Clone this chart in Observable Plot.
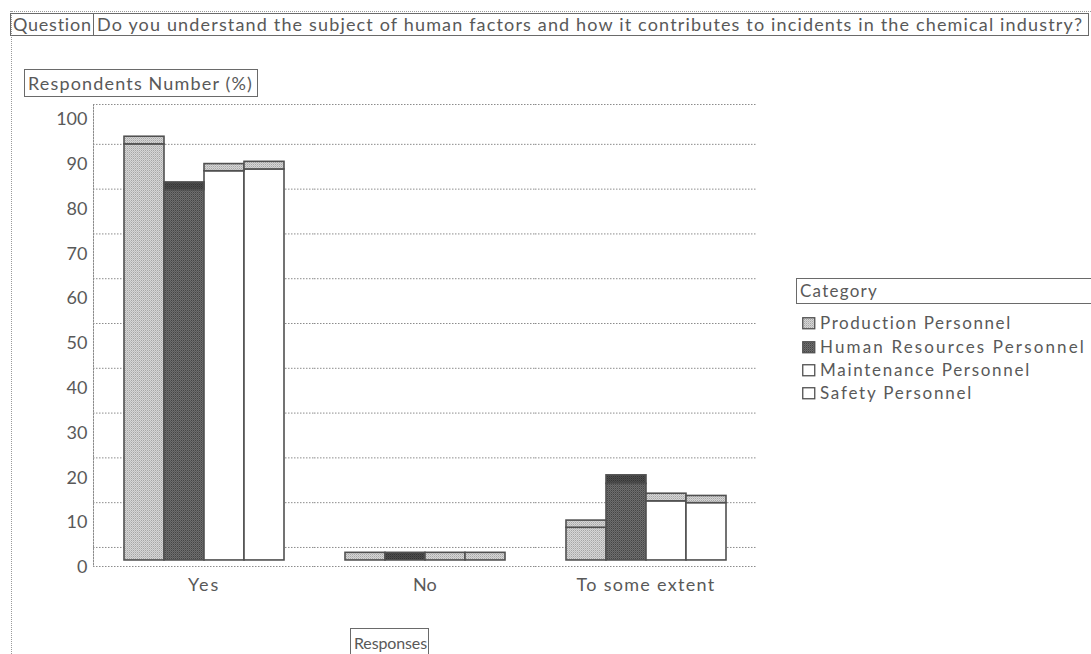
<!DOCTYPE html>
<html>
<head>
<meta charset="utf-8">
<script src="https://cdn.jsdelivr.net/npm/d3@7"></script>
<script src="https://cdn.jsdelivr.net/npm/@observablehq/plot@0.6"></script>
<style>
  body { margin: 0; background: #fff; }
  #chart { position: relative; width: 1091px; height: 654px; overflow: hidden;
           font-family: Lato, "Open Sans", sans-serif; color: #595959; background: #fff; }
  #chart svg.plot-main { position: absolute; left: 0; top: 0; }
  .box { position: absolute; border: 1px solid #6a6a6a; box-sizing: border-box; white-space: nowrap; }
  .box span, .legend-row span { display: inline-block; }
  .dots-h { position: absolute; height: 0; border-top: 1px dotted #9a9a9a; }
  .dots-v { position: absolute; width: 0; border-left: 1px dotted #9a9a9a; }
  .legend-row { position: absolute; left: 802px; height: 22px; line-height: 22px; font-size: 17px; white-space: nowrap; }
  .legend-row svg { position: absolute; left: 0; top: 5px; }
  .legend-row span { position: absolute; left: 18px; top: 0; }
</style>
</head>
<body>
<div id="chart"></div>
<script>
// Survey responses and personnel groups
const responses = ["Yes", "No", "To some extent"];
const categories = ["Production Personnel", "Human Resources Personnel", "Maintenance Personnel", "Safety Personnel"];

// Lower segment of each bar (%), in category order
const yesLower = [92.9, 82.7, 86.9, 87.3];
const noLower = [0, 0, 0, 0];
const someLower = [7.3, 17.1, 13.2, 12.8];

// Upper segment of each bar (%), in category order
const yesUpper = [1.7, 1.7, 1.6, 1.7];
const noUpper = [1.7, 1.7, 1.7, 1.7];
const someUpper = [1.6, 1.9, 1.7, 1.6];

const yTicks = [0, 10, 20, 30, 40, 50, 60, 70, 80, 90, 100];

const lowerByResponse = [yesLower, noLower, someLower];
const upperByResponse = [yesUpper, noUpper, someUpper];
const rows = responses.flatMap((response, i) =>
  categories.map((category, j) => ({
    response,
    category,
    lower: lowerByResponse[i][j],
    upper: upperByResponse[i][j]
  }))
);

// Fill styles per group: lower segment / upper segment
const fills = {
  "Production Personnel": {lower: "url(#stipple-light)", upper: "url(#stipple-light)"},
  "Human Resources Personnel": {lower: "url(#stipple-dark)", upper: "url(#stipple-darker)"},
  "Maintenance Personnel": {lower: "white", upper: "url(#stipple-light)"},
  "Safety Personnel": {lower: "white", upper: "url(#stipple-light)"}
};

const yDomain = [-1.35, 101.8];
const dotted = {stroke: "#8c8c8c", strokeOpacity: 1, strokeWidth: 1, strokeDasharray: "1.5,1.5"};
const barStyle = {stroke: "#505050", strokeWidth: 1.6};

const plot = Plot.plot({
  width: 770,
  height: 600,
  marginLeft: 92,
  marginRight: 13,
  marginTop: 104,
  marginBottom: 34,
  style: {background: "none", fontFamily: "Lato, 'Open Sans', sans-serif", fontSize: "18px", color: "#595959", overflow: "visible"},
  fx: {domain: responses, padding: 0, label: null},
  x: {domain: categories, paddingInner: 0, paddingOuter: 0.755, axis: null},
  y: {domain: yDomain, axis: null},
  color: {type: "identity"},
  marks: [
    Plot.gridY(yTicks.slice(0, -1), {...dotted, dy: -13}),
    Plot.ruleY(yDomain, dotted),
    Plot.frame({anchor: "left", facetAnchor: "left", ...dotted}),
    Plot.axisY(yTicks, {tickSize: 0, tickPadding: 6, dy: 7, label: null}),
    Plot.axisFx({anchor: "bottom", tickSize: 0, tickPadding: 12, label: null}),
    Plot.barY(rows.filter(d => d.lower > 0), {
      fx: "response", x: "category", y1: 0, y2: "lower",
      fill: d => fills[d.category].lower, ...barStyle
    }),
    Plot.barY(rows, {
      fx: "response", x: "category", y1: "lower", y2: d => d.lower + d.upper,
      fill: d => fills[d.category].upper, ...barStyle
    })
  ]
});
plot.classList.add("plot-main");

// Stipple textures for the grey fills
plot.insertAdjacentHTML("afterbegin", `
<defs>
  <pattern id="stipple-light" width="2" height="2" patternUnits="userSpaceOnUse">
    <rect width="2" height="2" fill="#d6d6d6"/>
    <rect width="1" height="1" fill="#a6a6a6"/>
    <rect x="1" y="1" width="1" height="1" fill="#bdbdbd"/>
  </pattern>
  <pattern id="stipple-dark" width="2" height="2" patternUnits="userSpaceOnUse">
    <rect width="2" height="2" fill="#6e6e6e"/>
    <rect width="1" height="1" fill="#454545"/>
    <rect x="1" y="1" width="1" height="1" fill="#5a5a5a"/>
  </pattern>
  <pattern id="stipple-darker" width="2" height="2" patternUnits="userSpaceOnUse">
    <rect width="2" height="2" fill="#4e4e4e"/>
    <rect width="1" height="1" fill="#333"/>
    <rect x="1" y="1" width="1" height="1" fill="#404040"/>
  </pattern>
</defs>`);

const chart = document.getElementById("chart");
chart.appendChild(plot);

// Frame decorations, title boxes, axis title boxes and legend
function add(html) { chart.insertAdjacentHTML("beforeend", html); return chart.lastElementChild; }
add(`<div class="dots-h" style="left:10px;top:11px;width:1081px"></div>`);
add(`<div class="dots-v" style="left:11px;top:11px;height:643px"></div>`);

function boxed(text, left, top, width, height, fontSize, padLeft, target) {
  const el = add(`<div class="box" style="left:${left}px;top:${top}px;width:${width}px;height:${height}px;line-height:${height - 2}px;font-size:${fontSize}px;padding-left:${padLeft}px"><span></span></div>`);
  const span = el.querySelector("span");
  span.textContent = text;
  fit(span, target);
  return el;
}
function fit(span, target) {
  const w = span.getBoundingClientRect().width;
  const n = span.textContent.length;
  span.style.letterSpacing = ((target - w) / n).toFixed(2) + "px";
}

boxed("Question", 10, 13, 84, 23, 18, 2, 79);
boxed("Do you understand the subject of human factors and how it contributes to incidents in the chemical industry?", 93, 13, 996, 23, 18, 3, 986);
boxed("Respondents Number (%)", 24, 69, 234, 28, 18, 3, 225);
boxed("Responses", 350, 628, 79, 30, 16, 3, 73);
boxed("Category", 796, 278, 310, 26, 17, 3, 78);

const legendTargets = [192, 266, 211, 153];
const legendTops = [312, 336, 359, 382];
categories.forEach((c, i) => {
  const row = add(`<div class="legend-row" style="top:${legendTops[i]}px">
    <svg width="14" height="13"><rect x="0.75" y="0.75" width="12" height="11" fill="${fills[c].lower}" stroke="#505050" stroke-width="1.3"/></svg>
    <span></span></div>`);
  const span = row.querySelector("span");
  span.textContent = c;
  fit(span, legendTargets[i]);
});

// Letter spacing for the response labels under the groups
const fxTargets = {"Yes": 32, "No": 24, "To some extent": 139};
d3.select(plot).selectAll('g[aria-label="fx-axis tick label"] text').each(function () {
  const t = this.textContent;
  if (fxTargets[t]) {
    const w = this.getComputedTextLength();
    this.style.letterSpacing = Math.max(0, (fxTargets[t] - w) / t.length).toFixed(2) + "px";
  }
});
</script>
</body>
</html>
